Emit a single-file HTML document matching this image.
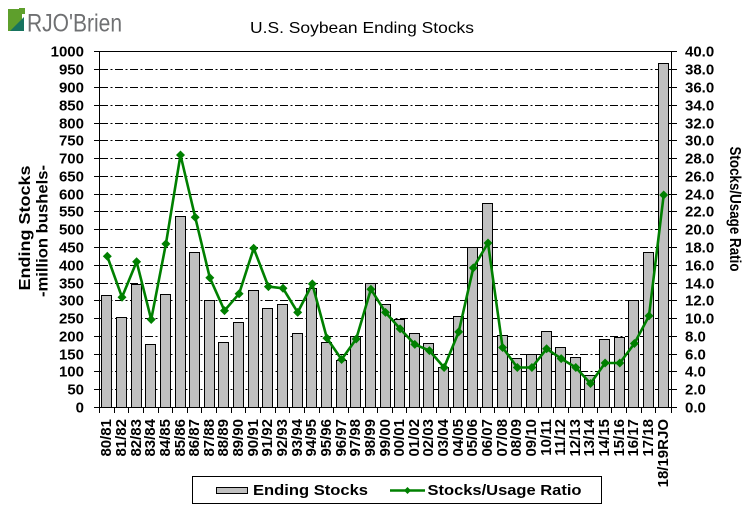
<!DOCTYPE html>
<html><head><meta charset="utf-8"><style>
html,body{margin:0;padding:0;background:#fff;}
svg{display:block;font-family:"Liberation Sans",Arial,sans-serif;}
</style></head><body>
<svg width="756" height="516" viewBox="0 0 756 516" xmlns="http://www.w3.org/2000/svg">
<rect width="756" height="516" fill="#fff"/>
<!-- logo -->
<rect x="8" y="9" width="14" height="22" fill="#5e9f2c"/>
<rect x="19" y="8" width="6" height="6" fill="#5e9f2c"/>
<polygon points="10,31 24,31 24,17" fill="#17735f"/>
<text x="27" y="31.5" font-size="25" fill="#6f7072" textLength="95" lengthAdjust="spacingAndGlyphs">RJO'Brien</text>
<!-- title -->
<text x="250" y="33" font-size="16" fill="#000" textLength="224" lengthAdjust="spacingAndGlyphs">U.S. Soybean Ending Stocks</text>

<!-- gridlines -->
<g stroke="#000" stroke-width="1" stroke-dasharray="8 2.5 2 2.5" fill="none">
<path d="M100 389.5H671M100 371.5H671M100 354.5H671M100 336.5H671M100 318.5H671M100 300.5H671M100 283.5H671M100 265.5H671M100 247.5H671M100 229.5H671M100 211.5H671M100 194.5H671M100 176.5H671M100 158.5H671M100 140.5H671M100 123.5H671M100 105.5H671M100 87.5H671M100 69.5H671"/>
</g>
<path d="M99.5 51.5H671.5" stroke="#000" stroke-width="1"/>

<!-- bars -->
<g fill="#c0c0c0" stroke="#000" stroke-width="1">
<rect x="101.5" y="295.5" width="10" height="112"/>
<rect x="116.5" y="317.5" width="10" height="90"/>
<rect x="131.5" y="284.5" width="10" height="123"/>
<rect x="145.5" y="344.5" width="10" height="63"/>
<rect x="160.5" y="294.5" width="10" height="113"/>
<rect x="175.5" y="216.5" width="10" height="191"/>
<rect x="189.5" y="252.5" width="10" height="155"/>
<rect x="204.5" y="300.5" width="10" height="107"/>
<rect x="218.5" y="342.5" width="10" height="65"/>
<rect x="233.5" y="322.5" width="10" height="85"/>
<rect x="248.5" y="290.5" width="10" height="117"/>
<rect x="262.5" y="308.5" width="10" height="99"/>
<rect x="277.5" y="304.5" width="10" height="103"/>
<rect x="292.5" y="333.5" width="10" height="74"/>
<rect x="306.5" y="288.5" width="10" height="119"/>
<rect x="321.5" y="342.5" width="10" height="65"/>
<rect x="336.5" y="360.5" width="10" height="47"/>
<rect x="350.5" y="336.5" width="10" height="71"/>
<rect x="365.5" y="283.5" width="10" height="124"/>
<rect x="380.5" y="304.5" width="10" height="103"/>
<rect x="394.5" y="319.5" width="10" height="88"/>
<rect x="409.5" y="333.5" width="10" height="74"/>
<rect x="423.5" y="343.5" width="10" height="64"/>
<rect x="438.5" y="367.5" width="10" height="40"/>
<rect x="453.5" y="316.5" width="10" height="91"/>
<rect x="467.5" y="247.5" width="10" height="160"/>
<rect x="482.5" y="203.5" width="10" height="204"/>
<rect x="497.5" y="335.5" width="10" height="72"/>
<rect x="511.5" y="358.5" width="10" height="49"/>
<rect x="526.5" y="354.5" width="10" height="53"/>
<rect x="541.5" y="331.5" width="10" height="76"/>
<rect x="555.5" y="347.5" width="10" height="60"/>
<rect x="570.5" y="357.5" width="10" height="50"/>
<rect x="584.5" y="375.5" width="10" height="32"/>
<rect x="599.5" y="339.5" width="10" height="68"/>
<rect x="614.5" y="337.5" width="10" height="70"/>
<rect x="628.5" y="300.5" width="10" height="107"/>
<rect x="643.5" y="252.5" width="10" height="155"/>
<rect x="658.5" y="63.5" width="10" height="344"/>
</g>

<!-- axes -->
<g stroke="#000" stroke-width="1" fill="none">
<path d="M99.5 51.5V413M671.5 51.5V413M94 407.5H677"/>
<!-- left ticks -->
<path d="M94 389.5H100M94 371.5H100M94 354.5H100M94 336.5H100M94 318.5H100M94 300.5H100M94 283.5H100M94 265.5H100M94 247.5H100M94 229.5H100M94 211.5H100M94 194.5H100M94 176.5H100M94 158.5H100M94 140.5H100M94 123.5H100M94 105.5H100M94 87.5H100M94 69.5H100M94 51.5H100"/>
<!-- right ticks -->
<path d="M668 389.5H677M668 371.5H677M668 354.5H677M668 336.5H677M668 318.5H677M668 300.5H677M668 283.5H677M668 265.5H677M668 247.5H677M668 229.5H677M668 211.5H677M668 194.5H677M668 176.5H677M668 158.5H677M668 140.5H677M668 123.5H677M668 105.5H677M668 87.5H677M668 69.5H677M668 51.5H677"/>
<!-- x ticks -->
<path d="M114.5 407.5V413M128.5 407.5V413M143.5 407.5V413M158.5 407.5V413M172.5 407.5V413M187.5 407.5V413M201.5 407.5V413M216.5 407.5V413M231.5 407.5V413M245.5 407.5V413M260.5 407.5V413M275.5 407.5V413M289.5 407.5V413M304.5 407.5V413M319.5 407.5V413M333.5 407.5V413M348.5 407.5V413M363.5 407.5V413M377.5 407.5V413M392.5 407.5V413M406.5 407.5V413M421.5 407.5V413M436.5 407.5V413M450.5 407.5V413M465.5 407.5V413M480.5 407.5V413M494.5 407.5V413M509.5 407.5V413M524.5 407.5V413M538.5 407.5V413M553.5 407.5V413M568.5 407.5V413M582.5 407.5V413M597.5 407.5V413M611.5 407.5V413M626.5 407.5V413M641.5 407.5V413M655.5 407.5V413"/>
</g>

<!-- ratio line -->
<polyline fill="none" stroke="#008000" stroke-width="2.6" stroke-linejoin="round" points="107.3,256.3 122.0,297.2 136.6,261.7 151.2,319.5 165.9,243.9 180.5,155.0 195.2,217.2 209.8,277.7 224.5,310.6 239.1,293.7 253.7,248.3 268.4,286.6 283.0,288.3 297.7,312.4 312.3,283.9 326.9,338.1 341.6,359.5 356.2,339.0 370.9,289.2 385.5,312.4 400.1,328.8 414.8,344.4 429.4,350.6 444.1,367.5 458.7,331.9 473.3,267.9 488.0,243.0 502.6,347.5 517.3,367.5 531.9,367.5 546.6,348.8 561.2,358.6 575.8,367.5 590.5,383.5 605.1,363.0 619.8,363.0 634.4,343.5 649.0,315.9 663.7,195.0"/>
<path fill="#008000" d="M107.3 251.8l4.5 4.5l-4.5 4.5l-4.5 -4.5zM122.0 292.7l4.5 4.5l-4.5 4.5l-4.5 -4.5zM136.6 257.2l4.5 4.5l-4.5 4.5l-4.5 -4.5zM151.2 315.0l4.5 4.5l-4.5 4.5l-4.5 -4.5zM165.9 239.4l4.5 4.5l-4.5 4.5l-4.5 -4.5zM180.5 150.5l4.5 4.5l-4.5 4.5l-4.5 -4.5zM195.2 212.7l4.5 4.5l-4.5 4.5l-4.5 -4.5zM209.8 273.2l4.5 4.5l-4.5 4.5l-4.5 -4.5zM224.5 306.1l4.5 4.5l-4.5 4.5l-4.5 -4.5zM239.1 289.2l4.5 4.5l-4.5 4.5l-4.5 -4.5zM253.7 243.8l4.5 4.5l-4.5 4.5l-4.5 -4.5zM268.4 282.1l4.5 4.5l-4.5 4.5l-4.5 -4.5zM283.0 283.8l4.5 4.5l-4.5 4.5l-4.5 -4.5zM297.7 307.9l4.5 4.5l-4.5 4.5l-4.5 -4.5zM312.3 279.4l4.5 4.5l-4.5 4.5l-4.5 -4.5zM326.9 333.6l4.5 4.5l-4.5 4.5l-4.5 -4.5zM341.6 355.0l4.5 4.5l-4.5 4.5l-4.5 -4.5zM356.2 334.5l4.5 4.5l-4.5 4.5l-4.5 -4.5zM370.9 284.7l4.5 4.5l-4.5 4.5l-4.5 -4.5zM385.5 307.9l4.5 4.5l-4.5 4.5l-4.5 -4.5zM400.1 324.3l4.5 4.5l-4.5 4.5l-4.5 -4.5zM414.8 339.9l4.5 4.5l-4.5 4.5l-4.5 -4.5zM429.4 346.1l4.5 4.5l-4.5 4.5l-4.5 -4.5zM444.1 363.0l4.5 4.5l-4.5 4.5l-4.5 -4.5zM458.7 327.4l4.5 4.5l-4.5 4.5l-4.5 -4.5zM473.3 263.4l4.5 4.5l-4.5 4.5l-4.5 -4.5zM488.0 238.5l4.5 4.5l-4.5 4.5l-4.5 -4.5zM502.6 343.0l4.5 4.5l-4.5 4.5l-4.5 -4.5zM517.3 363.0l4.5 4.5l-4.5 4.5l-4.5 -4.5zM531.9 363.0l4.5 4.5l-4.5 4.5l-4.5 -4.5zM546.6 344.3l4.5 4.5l-4.5 4.5l-4.5 -4.5zM561.2 354.1l4.5 4.5l-4.5 4.5l-4.5 -4.5zM575.8 363.0l4.5 4.5l-4.5 4.5l-4.5 -4.5zM590.5 379.0l4.5 4.5l-4.5 4.5l-4.5 -4.5zM605.1 358.5l4.5 4.5l-4.5 4.5l-4.5 -4.5zM619.8 358.5l4.5 4.5l-4.5 4.5l-4.5 -4.5zM634.4 339.0l4.5 4.5l-4.5 4.5l-4.5 -4.5zM649.0 311.4l4.5 4.5l-4.5 4.5l-4.5 -4.5zM663.7 190.5l4.5 4.5l-4.5 4.5l-4.5 -4.5z"/>

<!-- left tick labels -->
<g font-size="15" font-weight="bold" text-anchor="end" fill="#000">
<text x="84" y="412.5">0</text>
<text x="84" y="394.5">50</text>
<text x="84" y="376.5">100</text>
<text x="84" y="359.5">150</text>
<text x="84" y="341.5">200</text>
<text x="84" y="323.5">250</text>
<text x="84" y="305.5">300</text>
<text x="84" y="288.5">350</text>
<text x="84" y="270.5">400</text>
<text x="84" y="252.5">450</text>
<text x="84" y="234.5">500</text>
<text x="84" y="216.5">550</text>
<text x="84" y="199.5">600</text>
<text x="84" y="181.5">650</text>
<text x="84" y="163.5">700</text>
<text x="84" y="145.5">750</text>
<text x="84" y="128.5">800</text>
<text x="84" y="110.5">850</text>
<text x="84" y="92.5">900</text>
<text x="84" y="74.5">950</text>
<text x="84" y="56.5">1000</text>
</g>
<!-- right tick labels -->
<g font-size="15" font-weight="bold" fill="#000">
<text x="685" y="412.5">0.0</text>
<text x="685" y="394.5">2.0</text>
<text x="685" y="376.5">4.0</text>
<text x="685" y="359.5">6.0</text>
<text x="685" y="341.5">8.0</text>
<text x="685" y="323.5">10.0</text>
<text x="685" y="305.5">12.0</text>
<text x="685" y="288.5">14.0</text>
<text x="685" y="270.5">16.0</text>
<text x="685" y="252.5">18.0</text>
<text x="685" y="234.5">20.0</text>
<text x="685" y="216.5">22.0</text>
<text x="685" y="199.5">24.0</text>
<text x="685" y="181.5">26.0</text>
<text x="685" y="163.5">28.0</text>
<text x="685" y="145.5">30.0</text>
<text x="685" y="128.5">32.0</text>
<text x="685" y="110.5">34.0</text>
<text x="685" y="92.5">36.0</text>
<text x="685" y="74.5">38.0</text>
<text x="685" y="56.5">40.0</text>
</g>

<!-- x labels -->
<g font-size="15" font-weight="bold" text-anchor="end" fill="#000">
<text transform="translate(111,419) rotate(-90)">80/81</text>
<text transform="translate(126,419) rotate(-90)">81/82</text>
<text transform="translate(141,419) rotate(-90)">82/83</text>
<text transform="translate(155,419) rotate(-90)">83/84</text>
<text transform="translate(170,419) rotate(-90)">84/85</text>
<text transform="translate(185,419) rotate(-90)">85/86</text>
<text transform="translate(199,419) rotate(-90)">86/87</text>
<text transform="translate(214,419) rotate(-90)">87/88</text>
<text transform="translate(228,419) rotate(-90)">88/89</text>
<text transform="translate(243,419) rotate(-90)">89/90</text>
<text transform="translate(258,419) rotate(-90)">90/91</text>
<text transform="translate(272,419) rotate(-90)">91/92</text>
<text transform="translate(287,419) rotate(-90)">92/93</text>
<text transform="translate(302,419) rotate(-90)">93/94</text>
<text transform="translate(316,419) rotate(-90)">94/95</text>
<text transform="translate(331,419) rotate(-90)">95/96</text>
<text transform="translate(346,419) rotate(-90)">96/97</text>
<text transform="translate(360,419) rotate(-90)">97/98</text>
<text transform="translate(375,419) rotate(-90)">98/99</text>
<text transform="translate(390,419) rotate(-90)">99/00</text>
<text transform="translate(404,419) rotate(-90)">00/01</text>
<text transform="translate(419,419) rotate(-90)">01/02</text>
<text transform="translate(433,419) rotate(-90)">02/03</text>
<text transform="translate(448,419) rotate(-90)">03/04</text>
<text transform="translate(463,419) rotate(-90)">04/05</text>
<text transform="translate(477,419) rotate(-90)">05/06</text>
<text transform="translate(492,419) rotate(-90)">06/07</text>
<text transform="translate(507,419) rotate(-90)">07/08</text>
<text transform="translate(521,419) rotate(-90)">08/09</text>
<text transform="translate(536,419) rotate(-90)">09/10</text>
<text transform="translate(551,419) rotate(-90)">10/11</text>
<text transform="translate(565,419) rotate(-90)">11/12</text>
<text transform="translate(580,419) rotate(-90)">12/13</text>
<text transform="translate(594,419) rotate(-90)">13/14</text>
<text transform="translate(609,419) rotate(-90)">14/15</text>
<text transform="translate(624,419) rotate(-90)">15/16</text>
<text transform="translate(638,419) rotate(-90)">16/17</text>
<text transform="translate(653,419) rotate(-90)">17/18</text>
<text transform="translate(668,419) rotate(-90)">18/19RJO</text>
</g>

<!-- axis titles -->
<g font-size="16" font-weight="bold" text-anchor="middle" fill="#000">
<text transform="translate(30,228) rotate(-90)" textLength="125" lengthAdjust="spacingAndGlyphs">Ending Stocks</text>
<text transform="translate(47.5,231) rotate(-90)" textLength="132" lengthAdjust="spacingAndGlyphs">-million bushels-</text>
<text transform="translate(730,209) rotate(90)" textLength="125" lengthAdjust="spacingAndGlyphs">Stocks/Usage Ratio</text>
</g>

<!-- legend -->
<rect x="192.5" y="476.5" width="409" height="27" fill="#fff" stroke="#000" stroke-width="1"/>
<rect x="216.5" y="487.5" width="31" height="6" fill="#c0c0c0" stroke="#000" stroke-width="1"/>
<text x="253" y="495" font-size="15" font-weight="bold" textLength="115" lengthAdjust="spacingAndGlyphs">Ending Stocks</text>
<path d="M390 490.5H425" stroke="#008000" stroke-width="2.6"/>
<path d="M407.5 487l3.5 3.5l-3.5 3.5l-3.5 -3.5z" fill="#008000"/>
<text x="427.5" y="495" font-size="15" font-weight="bold" textLength="154" lengthAdjust="spacingAndGlyphs">Stocks/Usage Ratio</text>
</svg>
</body></html>
